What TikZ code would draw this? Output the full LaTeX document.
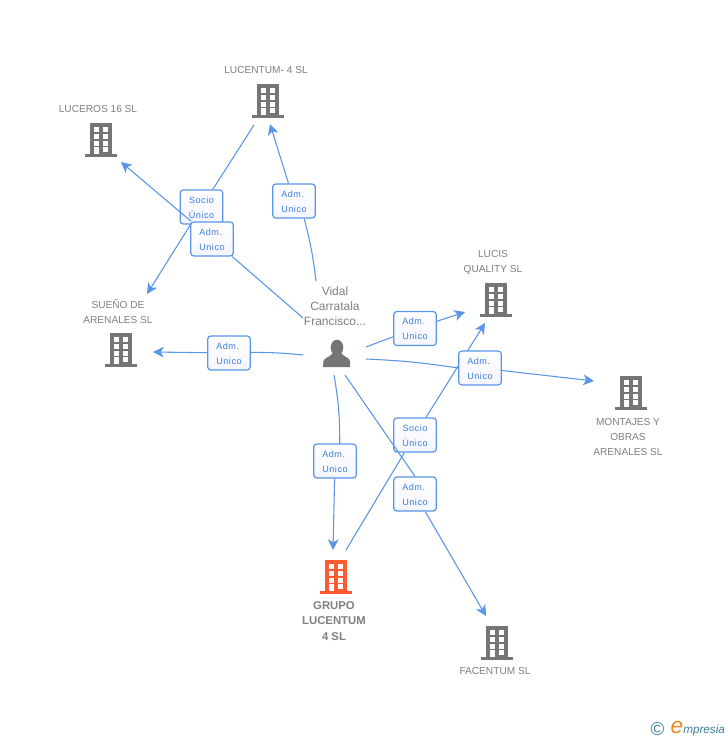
\documentclass[tikz,border=0pt]{standalone}
\usepackage{fontspec}
\setmainfont{Liberation Sans}
\newfontfamily\boxfont[LetterSpace=6]{Liberation Sans}
\usetikzlibrary{arrows.meta}
\definecolor{bgrey}{HTML}{757575}
\definecolor{bred}{HTML}{FF5A30}
\definecolor{lblue}{HTML}{5A96E6}
\definecolor{tblue}{HTML}{3B7FDC}
\definecolor{lgrey}{HTML}{808080}
\definecolor{teal}{HTML}{3F7F96}
\definecolor{logoor}{HTML}{F08A1E}
\pgfdeclarelayer{bottom}
\pgfdeclarelayer{back}
\pgfdeclarelayer{mid}
\pgfsetlayers{bottom,back,mid,main}
\tikzset{
  x=0.75pt,y=-0.75pt,
  pics/bld/.style={code={
    \fill[#1] (-11,0) rectangle (11,31);
    \fill[#1] (-16,31) rectangle (16,34);
    \foreach \yy in {4,11,18}{
      \fill[white] (-7.5,\yy) rectangle (-2.5,\yy+4.5);
      \fill[white] (2,\yy) rectangle (7,\yy+4.5);}
    \fill[white] (2,24) rectangle (7,28.5);
    \fill[white] (-7.5,24) rectangle (-2.5,31);
  }},
  lab/.style={font=\fontsize{7.6}{11.25}\selectfont,text=lgrey,align=center,inner sep=0pt},
  vlab/.style={font=\fontsize{9}{11.25}\selectfont,text=lgrey,align=center,inner sep=0pt},
  blab/.style={font=\fontsize{8.5}{11.4}\selectfont\bfseries,text=lgrey,align=center,inner sep=0pt},
  tag/.style={draw=lblue,line width=0.9pt,rounded corners=2.4pt,top color=white,bottom color=white!96!blue,
    minimum width=32pt,minimum height=25.5pt,inner sep=0pt,align=center,text=tblue,
    font=\boxfont\fontsize{6.8}{11.25}\selectfont},
  link/.style={draw=lblue,line width=0.8pt},
  arr/.style={link,-{Stealth[length=8pt,width=8pt,inset=2.2pt]}},
}
\begin{document}
\begin{tikzpicture}
\begin{pgfonlayer}{bottom}
\fill[white] (0,0) rectangle (728,740);
\end{pgfonlayer}
\useasboundingbox (0,0) rectangle (728,740);
% buildings
\pic at (268,84) {bld=bgrey};
\pic at (101,123) {bld=bgrey};
\pic at (121,333) {bld=bgrey};
\pic at (496,283) {bld=bgrey};
\pic at (631,376) {bld=bgrey};
\pic at (336,560) {bld=bred};
\pic at (497,626) {bld=bgrey};
% person
\fill[bgrey] (337,347.5) ellipse (6.3 and 7.8);
\fill[bgrey] (323,367) -- (323.5,361) .. controls (324,358) and (330,357) .. (333,353) -- (341,353)
  .. controls (344,357) and (350,358) .. (350,361) -- (350,367) -- cycle;
% labels
\node[lab] (tLucentum) at (266,70.5) {LUCENTUM- 4 SL};
\node[lab] (tLuceros) at (98,109) {LUCEROS 16 SL};
\node[lab] (tSueno) at (118,311.5) {SUEÑO DE\\ARENALES SL};
\node[lab] (tLucis) at (493,262.5) {LUCIS\\QUALITY SL};
\node[lab] (tMontajes) at (628,437) {MONTAJES Y\\OBRAS\\ARENALES SL};
\node[blab] (tGrupo) at (334,621) {GRUPO\\LUCENTUM\\4 SL};
\node[lab] (tFacentum) at (495,671) {FACENTUM SL};
\node[vlab] (tVidal) at (335,306) {Vidal\\Carratala\\Francisco...};
% tags
\begin{pgfonlayer}{back}
\node[tag] (s1) at (201.5,207) {\rule{0pt}{6pt}Socio\\Único};
\node[tag] (s2) at (415,435) {\rule{0pt}{6pt}Socio\\Único};
\end{pgfonlayer}
\node[tag] (a1) at (294,201) {\rule{0pt}{6pt}Adm.\hspace*{2pt}\\Unico};
\node[tag] (a2) at (212,239) {\rule{0pt}{6pt}Adm.\hspace*{2pt}\\Unico};
\node[tag] (a3) at (229,353) {\rule{0pt}{6pt}Adm.\hspace*{2pt}\\Unico};
\node[tag] (a4) at (415,328.5) {\rule{0pt}{6pt}Adm.\hspace*{2pt}\\Unico};
\node[tag] (a5) at (480,368) {\rule{0pt}{6pt}Adm.\hspace*{2pt}\\Unico};
\node[tag] (a6) at (335,461) {\rule{0pt}{6pt}Adm.\hspace*{2pt}\\Unico};
\node[tag] (a7) at (415,494) {\rule{0pt}{6pt}Adm.\hspace*{2pt}\\Unico};
% connector ends
\coordinate (p1) at (316,281);
\coordinate (e1) at (270,124);
\coordinate (p2) at (254,125);
\coordinate (e2) at (147,294);
\coordinate (p3) at (303,318);
\coordinate (e3) at (121,162);
\coordinate (p4) at (303,355);
\coordinate (e4) at (153,352);
\coordinate (p5) at (366,347);
\coordinate (e5) at (465,312);
\coordinate (p6) at (366,359);
\coordinate (e6) at (594,381);
\coordinate (p7) at (346,550);
\coordinate (e7) at (485,323);
\coordinate (p8) at (334,375);
\coordinate (e8) at (333,550);
\coordinate (p9) at (345,375);
\coordinate (e9) at (486,616);
\begin{pgfonlayer}{mid}
\draw[link] (p1) to[bend right=4] (a1.-60);
\draw[arr] (a1) -- (e1);
\draw[link] (p2) -- (s1);
\draw[arr] (s1) -- (e2);
\draw[link] (p3) -- (a2);
\draw[arr] (a2) -- (e3);
\draw[link] (p4) to[bend right=3] (a3);
\draw[arr] (a3) -- (e4);
\draw[link] (p5) -- (a4);
\draw[arr] (a4) -- (e5);
\draw[link] (p6) to[bend left=3] (a5.west);
\draw[arr] (a5) -- (e6);
\draw[link] (p7) -- (s2);
\draw[arr] (s2) -- (e7);
\draw[link] (p8) to[bend left=5] (a6.75);
\draw[arr] (a6) -- (e8);
\draw[link] (p9) -- (a7.north);
\draw[arr] (a7) -- (e9);
\end{pgfonlayer}
% logo
\node[inner sep=0pt,text=teal,font=\fontsize{14}{14}\selectfont] (copy) at (657.5,729) {©};
\node[inner sep=0pt,text=logoor,font=\fontsize{17}{17}\selectfont\itshape] (loge) at (677,727.5) {e};
\node[inner sep=0pt,text=teal,font=\fontsize{8.8}{10}\selectfont\itshape,anchor=west] (logt) at (683,730.5) {mpresia};
\end{tikzpicture}
\end{document}
